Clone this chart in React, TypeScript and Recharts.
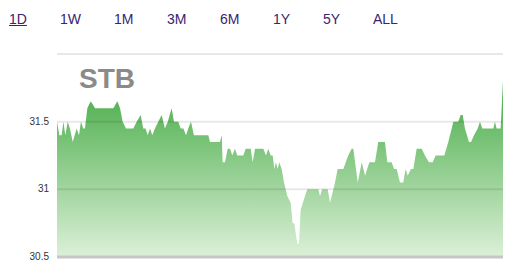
import { AreaChart, Area, XAxis, YAxis, ReferenceLine } from "recharts"

const ranges = ["1D", "1W", "1M", "3M", "6M", "1Y", "5Y", "ALL"]
const symbol = "STB"
const yTicks = [30.5, 31, 31.5, 32]

// minutes into the session
const times = [
  0, 1.6, 3.1, 4.3, 5.6, 7.2, 8.7, 10.6, 13.2, 14.8, 16.1, 17.7, 18.8, 20.4, 22.7, 25.6,
  37.9, 40.6, 42.4, 44.2, 46.4, 51.3, 53.6, 56.3, 58, 59.6, 61, 62.6, 64.1, 65.9, 68.1,
  70.4, 72.6, 74.5, 77.1, 78.7, 81.6, 83.2, 85, 86.8, 88.3, 90.1, 92.1, 101.8, 102.9,
  109.6, 110.8, 111.4, 113, 114.8, 116.4, 117.9, 119.7, 121.3, 125.3, 126.9, 130.3,
  131.6, 133.2, 138.8, 140.6, 142.1, 143.7, 145.1, 146.2, 147.3, 148.4, 149.5, 151.1,
  152.7, 154.9, 157.2, 158.5, 159.6, 161.6, 162.8, 163.9, 166.8, 168.4, 175.8, 176.9,
  178.4, 182.1, 183.6, 184.8, 187, 188.8, 192.6, 195.9, 198.2, 199.3, 202.3, 205, 207.2,
  210.1, 213.9, 216.1, 220.6, 222.2, 225.1, 226.7, 228.5, 230.7, 232.9, 234.5, 235.9,
  238.1, 239.7, 241.9, 245.3, 247.5, 250.2, 252.7, 254.7, 260.5, 263.2, 265.5, 266.6,
  269.9, 271.5, 272.9, 274.4, 277.1, 278.5, 280.5, 283, 284.5, 286.1, 293.5, 294.6,
  295.7, 298.4, 300,
]

const prices = [
  31.5, 31.4, 31.4, 31.5, 31.4, 31.5, 31.45, 31.35, 31.45, 31.4, 31.5, 31.45, 31.45, 31.6, 31.65, 31.6,
  31.6, 31.65, 31.6, 31.5, 31.45, 31.45, 31.5, 31.55, 31.45, 31.45, 31.4, 31.45, 31.4, 31.45, 31.5,
  31.55, 31.45, 31.5, 31.6, 31.5, 31.5, 31.45, 31.45, 31.4, 31.45, 31.5, 31.4, 31.4, 31.35,
  31.35, 31.4, 31.2, 31.2, 31.3, 31.3, 31.25, 31.3, 31.25, 31.25, 31.3, 31.3,
  31.2, 31.3, 31.3, 31.25, 31.3, 31.25, 31.25, 31.15, 31.2, 31.15, 31.2, 31.15,
  31.05, 30.95, 30.9, 30.75, 30.75, 30.6, 30.6, 30.85, 30.95, 31.0, 31.0, 30.95,
  31.0, 31.0, 30.9, 30.95, 31.05, 31.15, 31.15, 31.25, 31.3, 31.3, 31.05, 31.2, 31.1,
  31.2, 31.2, 31.35, 31.35, 31.2, 31.2, 31.15, 31.15, 31.05, 31.05, 31.15, 31.1,
  31.15, 31.15, 31.3, 31.3, 31.25, 31.2, 31.2, 31.25, 31.25, 31.35, 31.45, 31.5,
  31.5, 31.55, 31.55, 31.45, 31.35, 31.35, 31.4, 31.45, 31.5, 31.45, 31.45, 31.5,
  31.45, 31.45, 31.8,
]

const data = times.map((t, i) => ({ t, price: prices[i] }))

const tabLeft = [9, 60, 114, 167, 220, 273, 323, 373]

export default function App() {
  return (
    <div
      style={{
        position: "absolute",
        left: 0,
        top: 0,
        width: 514,
        height: 267,
        background: "#fff",
        fontFamily: "'Liberation Sans', Arial, sans-serif",
      }}
    >
      {ranges.map((r, i) => (
        <span
          key={r}
          style={{
            position: "absolute",
            left: tabLeft[i],
            top: 11,
            fontSize: 14,
            color: "#3a2470",
            textDecoration: i === 0 ? "underline" : "none",
          }}
        >
          {r}
        </span>
      ))}
      <div style={{ position: "absolute", left: 0, top: 0 }}>
        <AreaChart
          width={514}
          height={267}
          data={data}
          margin={{ top: 54, right: 11, bottom: 10, left: 0 }}
        >
          <defs>
            <linearGradient id="stbFill" x1="0" y1="0" x2="0" y2="1">
              <stop offset="0%" stopColor="#45ab45" />
              <stop offset="100%" stopColor="#dcf0d8" />
            </linearGradient>
          </defs>
          <XAxis dataKey="t" type="number" domain={[0, 300]} hide />
          <YAxis
            domain={[30.5, 32]}
            ticks={yTicks}
            width={57}
            axisLine={false}
            tickLine={false}
            tick={{ fill: "#333", fontSize: 10, dy: -0.5 }}
            tickFormatter={(v) => (v === 32 ? "" : String(v))}
          />
          <Area
            type="linear"
            dataKey="price"
            stroke="none"
            fill="url(#stbFill)"
            fillOpacity={1}
            baseValue={30.5}
            isAnimationActive={false}
          />
          {yTicks.slice(1).map((v) => (
            <ReferenceLine key={v} y={v} stroke="rgba(0,0,0,0.09)" strokeWidth={2} />
          ))}
          <ReferenceLine y={30.5} stroke="#c6c6c6" strokeWidth={3} />
          <text
            x={79}
            y={88}
            fill="#8a8a8a"
            fontSize={28}
            fontWeight="bold"
            fontFamily="'Liberation Sans', Arial, sans-serif"
          >
            {symbol}
          </text>
        </AreaChart>
      </div>
    </div>
  )
}
